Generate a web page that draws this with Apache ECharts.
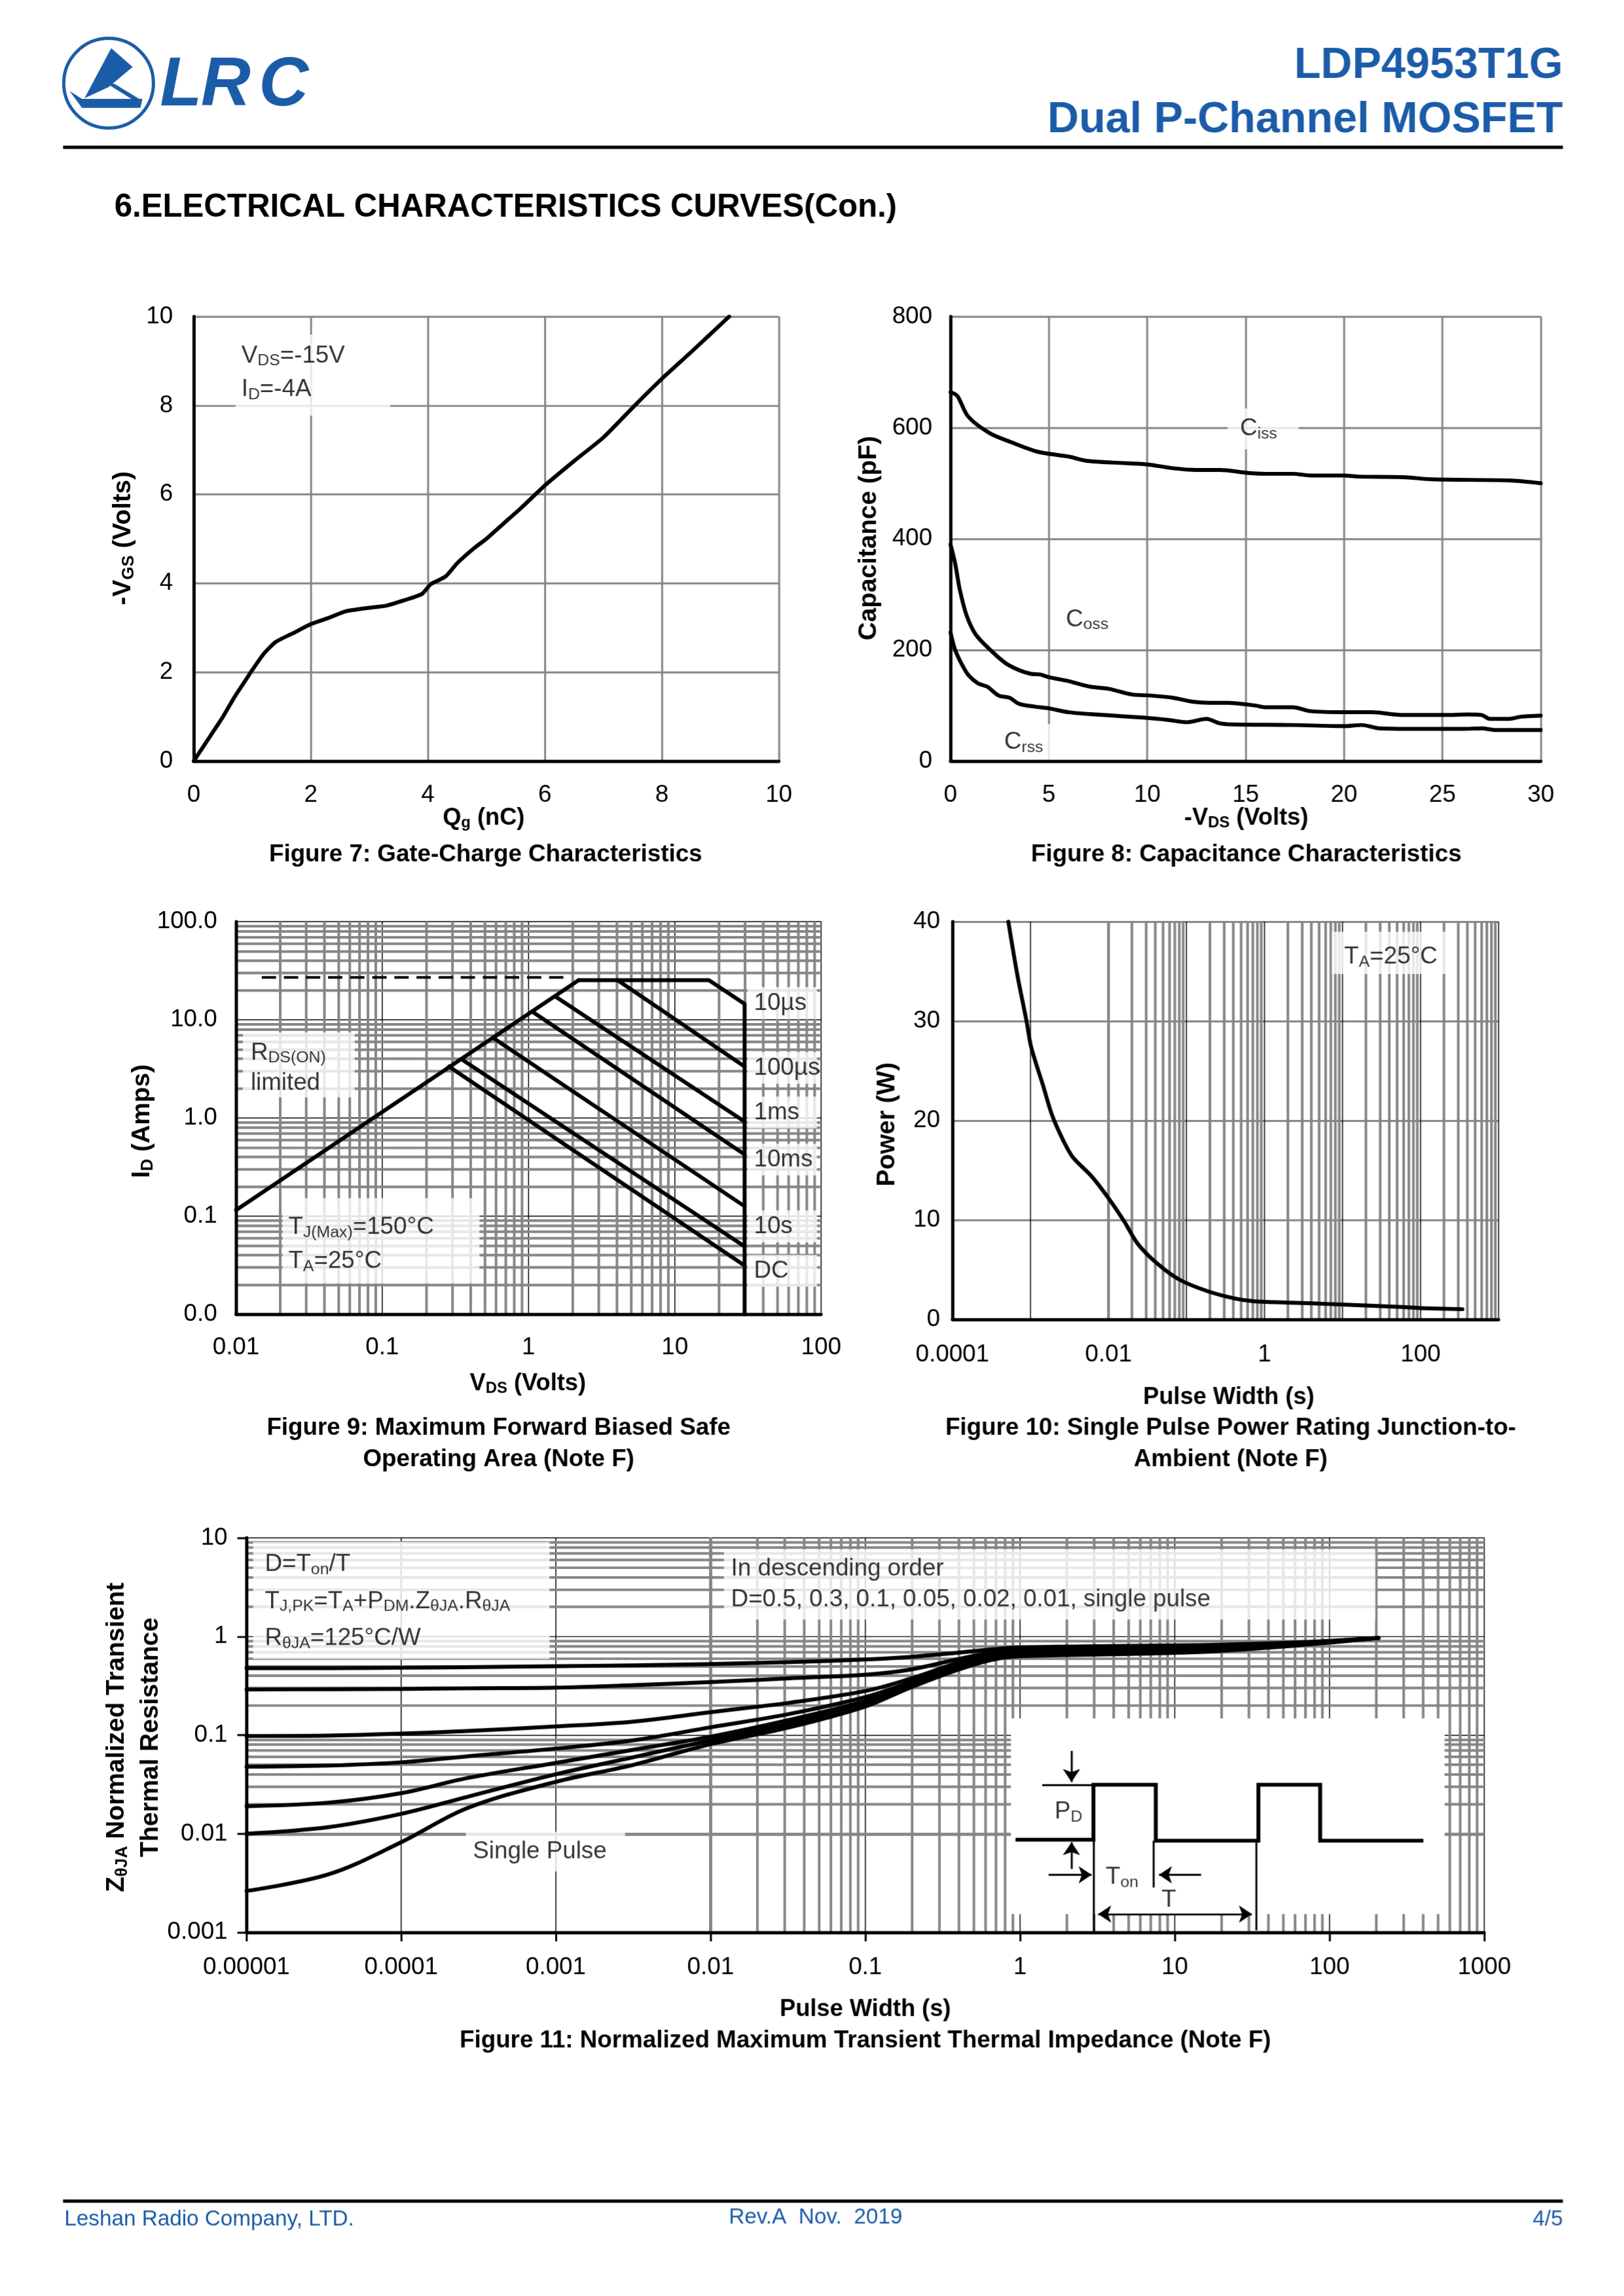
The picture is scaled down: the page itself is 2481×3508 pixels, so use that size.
<!DOCTYPE html>
<html>
<head>
<meta charset="utf-8">
<script src="https://cdn.jsdelivr.net/npm/echarts@6/dist/echarts.min.js"></script>
<style>
html,body{margin:0;padding:0;background:#fff;overflow:hidden;}
#c{width:2499px;height:3533px;transform:scale(0.993);transform-origin:0 0;}
</style>
</head>
<body>
<div id="c"></div>
<script>
// ================= DATA =================
// Figure 7: Gate charge
const gateChargeQg  = [0, 0.1, 0.3, 0.5, 0.7, 0.9, 1.0, 1.2, 1.4, 1.7, 2.0, 2.3, 2.6, 3.0, 3.3, 3.6, 3.9, 4.05, 4.3, 4.5, 4.8, 5.0, 5.3, 5.6, 6.0, 6.5, 7.0, 7.5, 8.0, 8.5, 9.15];
const gateChargeVgs = [0, 0.2, 0.6, 1.0, 1.45, 1.85, 2.05, 2.42, 2.68, 2.88, 3.08, 3.22, 3.37, 3.45, 3.5, 3.62, 3.76, 3.98, 4.15, 4.45, 4.8, 5.0, 5.35, 5.7, 6.2, 6.75, 7.28, 7.95, 8.6, 9.2, 10.0];

// Figure 8: Capacitance
const cissVds = [0, 0.35, 0.9, 2, 3.15, 4.3, 5, 6, 7, 9, 10, 11.3, 12.5, 13.7, 15, 16, 17.4, 18.3, 20, 20.7, 23, 24.5, 28.4, 30];
const ciss    = [664, 657, 620, 590, 573, 558, 553, 548, 540, 536, 534, 527, 524, 524, 519, 517, 517, 514, 514, 512, 511, 507, 505, 500];
const cossVds = [0, 0.23, 0.47, 0.82, 1.28, 2, 2.9, 4.1, 4.55, 5, 6, 7.1, 8.05, 9.2, 10.2, 11.3, 12.3, 13.2, 14.1, 15.5, 16, 17.4, 18.3, 20, 21.4, 23, 25.1, 26.3, 27, 27.4, 28.4, 29, 30];
const coss    = [390, 357, 309, 262, 228, 201, 174, 157, 156, 151, 144, 134, 130, 120, 118, 114, 107, 105, 105, 100, 97, 97, 90, 88, 88, 83, 83, 84, 83, 76, 76, 80, 82];
const crssVds = [0, 0.23, 0.58, 0.93, 1.4, 1.87, 2.45, 3, 3.5, 4.3, 5, 6, 7.8, 9.9, 11.1, 12, 13, 13.7, 14.4, 17.4, 20, 20.9, 21.8, 24.2, 26, 27, 27.7, 30];
const crss    = [232, 201, 174, 154, 140, 134, 118, 114, 103, 98, 95, 88, 83, 78, 74, 70, 76, 68, 66, 65, 63, 65, 59, 58, 58, 59, 56, 56];

// Figure 9: Safe operating area  [VDS, ID]
const soaRdsLimit   = [[0.01, 0.115], [2.2, 25.3]];
const soaDashed     = [[0.015, 27], [1.8, 27]];
const soa10us       = [[2.2, 25.3], [17.1, 25.3], [30, 14.5], [30, 0.01]];
const soa100us      = [[4.06, 25.3], [30, 3.34]];
const soa1ms        = [[1.52, 17.3], [30, 0.918]];
const soa10ms       = [[1.08, 11.9], [30, 0.424]];
const soa100ms      = [[0.575, 6.5], [30, 0.126]];
const soa10s        = [[0.352, 3.92], [30, 0.049]];
const soaDC         = [[0.286, 3.34], [30, 0.0313]];
const soaLabelNames = ['10µs', '100µs', '1ms', '10ms', '10s', 'DC'];
const soaLabelId    = [14.7, 3.21, 1.13, 0.374, 0.078, 0.0275];

// Figure 10: single pulse power
const pulseWidthS = [0.00052, 0.00068, 0.00089, 0.00102, 0.00144, 0.0019, 0.00267, 0.0035, 0.00607, 0.01, 0.0158, 0.0238, 0.0411, 0.0815, 0.185, 0.42, 0.73, 1.9, 3.76, 11.2, 58, 100, 344];
const peakPowerW  = [40, 34.6, 30.0, 27.4, 23.6, 20.5, 17.9, 16.3, 14.4, 12.2, 9.9, 7.6, 5.7, 4.0, 2.85, 2.1, 1.83, 1.7, 1.63, 1.48, 1.25, 1.14, 1.03];

// Figure 11: transient thermal impedance
const zthPulseWidth = [1e-5, 3.43e-5, 1e-4, 2.68e-4, 1e-3, 3.16e-3, 0.01, 0.0324, 0.1, 0.192, 0.381, 0.659, 1, 3.9, 15.4, 60.5, 207];
const zthD05    = [0.477, 0.478, 0.482, 0.488, 0.50, 0.51, 0.526, 0.55, 0.585, 0.62, 0.68, 0.74, 0.775, 0.80, 0.82, 0.87, 0.966];
const zthD03    = [0.29, 0.292, 0.294, 0.298, 0.303, 0.321, 0.345, 0.377, 0.41, 0.46, 0.58, 0.69, 0.74, 0.77, 0.80, 0.86, 0.966];
const zthD01    = [0.098, 0.099, 0.1035, 0.11, 0.1225, 0.137, 0.171, 0.213, 0.28, 0.37, 0.53, 0.67, 0.71, 0.74, 0.77, 0.85, 0.966];
const zthD005   = [0.0478, 0.0492, 0.053, 0.061, 0.073, 0.0885, 0.12, 0.164, 0.243, 0.34, 0.50, 0.64, 0.69, 0.72, 0.75, 0.84, 0.966];
const zthD002   = [0.019, 0.0207, 0.0258, 0.0367, 0.0523, 0.071, 0.0966, 0.143, 0.222, 0.32, 0.48, 0.62, 0.67, 0.70, 0.73, 0.83, 0.966];
const zthD001   = [0.010, 0.0117, 0.0159, 0.0237, 0.0401, 0.0596, 0.0885, 0.131, 0.213, 0.31, 0.47, 0.61, 0.66, 0.69, 0.72, 0.82, 0.966];
const zthSingle = [0.00263, 0.0039, 0.0082, 0.0182, 0.0336, 0.0499, 0.081, 0.12, 0.195, 0.30, 0.45, 0.58, 0.63, 0.66, 0.70, 0.81, 0.966];
const zthSeries = [zthD05, zthD03, zthD01, zthD005, zthD002, zthD001, zthSingle];

// Figure 11 inset sketch (pulse train), in axis units
const sketchPulseT = [0.935, 2.98, 2.98, 7.54, 7.54, 34.7, 34.7, 87, 87, 404];
const sketchPulseP = [0.0087, 0.0087, 0.0314, 0.0314, 0.0085, 0.0085, 0.0314, 0.0314, 0.0085, 0.0085];
const sketchLines = [
  [[1.39, 0.0314], [2.98, 0.0314], 'none', 'none'],
  [[2.15, 0.0692], [2.15, 0.0335], 'none', 'arrow'],
  [[2.15, 0.0044], [2.15, 0.0082], 'none', 'arrow'],
  [[1.53, 0.00383], [2.90, 0.00383], 'none', 'arrow'],
  [[14.8, 0.00383], [7.9, 0.00383], 'none', 'arrow'],
  [[7.3, 0.0085], [7.3, 0.00285], 'none', 'none'],
  [[2.98, 0.0087], [2.98, 0.001], 'none', 'none'],
  [[33.6, 0.0085], [33.6, 0.00105], 'none', 'none'],
  [[3.2, 0.00153], [31.5, 0.00153], 'arrow', 'arrow']
];

// Tick labels
const fig9XTicks  = ['0.01', '0.1', '1', '10', '100'];
const fig9YTicks  = ['0.0', '0.1', '1.0', '10.0', '100.0'];
const fig10XTicks = ['0.0001', '', '0.01', '', '1', '', '100', ''];
const fig11XTicks = ['0.00001', '0.0001', '0.001', '0.01', '0.1', '1', '10', '100', '1000'];
const fig11YTicks = ['0.001', '0.01', '0.1', '1', '10'];

// ================= STYLE HELPERS =================
const FONT = '"Liberation Sans", Arial, Helvetica, sans-serif';
const GRAY = '#858585';
const BLUE = '#1b5ca9';
const FS = 37;   // annotation / tick font size
const zip = (xs, ys) => xs.map((x, i) => [x, ys[i]]);

function rich(size, weight, lh, color) {
  color = color || '#000';
  const n = {fontSize: size, fontWeight: weight, fontFamily: FONT, color: color, fill: color};
  if (lh) n.lineHeight = lh;
  const s = Object.assign({}, n, {fontSize: Math.round(size * 0.67), padding: [Math.round(size * 0.42), 0, 0, 0]});
  return {n: n, s: s};
}

function minors(e0, e1) {
  const out = [];
  for (let e = e0; e < e1; e++) for (let k = 2; k <= 9; k++) out.push(k * Math.pow(10, e));
  return out;
}

function gridSeries(gi, xs, ys, w) {
  return {
    type: 'line', xAxisIndex: gi, yAxisIndex: gi, data: [], silent: true, z: 1,
    markLine: {
      silent: true, z: 1, symbol: ['none', 'none'], animation: false,
      label: {show: false}, emphasis: {disabled: true},
      lineStyle: {color: GRAY, width: w, type: 'solid', opacity: 1},
      data: xs.map(v => ({xAxis: v})).concat(ys.map(v => ({yAxis: v})))
    }
  };
}

function curve(gi, data, w, smooth, extra) {
  return Object.assign({
    type: 'line', xAxisIndex: gi, yAxisIndex: gi, data: data, symbol: 'none', showSymbol: false,
    smooth: smooth || false, silent: true, z: 3,
    lineStyle: {color: '#000', width: w, cap: 'round', join: 'round'}
  }, extra || {});
}

function textMark(gi, x, y, text, lab) {
  return {
    type: 'scatter', xAxisIndex: gi, yAxisIndex: gi, data: [[x, y]], symbolSize: 1, silent: true, z: 5,
    itemStyle: {color: 'rgba(0,0,0,0)'},
    label: Object.assign({
      show: true, position: [0, 0], align: 'left', verticalAlign: 'top',
      formatter: () => text, color: '#000', fontSize: FS, fontFamily: FONT,
      rich: rich(FS, 'normal', lab && lab.lineHeight)
    }, lab || {})
  };
}

const tickLabel = (margin, fmt) => ({show: true, fontSize: FS, fontFamily: FONT, color: '#000', margin: margin, formatter: fmt});
const logIdx = v => Math.round(Math.log10(v));

function mainAxis(gi, type, min, max, interval, margin, fmt, split) {
  const a = {
    gridIndex: gi, type: type, min: min, max: max,
    axisLine: {show: false}, axisTick: {show: false},
    axisLabel: tickLabel(margin, fmt),
    splitLine: {show: true, lineStyle: split}
  };
  if (type === 'log') a.logBase = 10;
  if (interval) a.interval = interval;
  return a;
}
function overlayAxis(gi, type, min, max, pos, ticks) {
  const a = {
    gridIndex: gi, type: type, min: min, max: max, position: pos, z: 10,
    axisLine: {show: true, onZero: false, lineStyle: {color: '#000', width: 5}},
    axisTick: ticks ? {show: true, inside: false, length: 14, lineStyle: {color: '#000', width: 3}} : {show: false},
    axisLabel: {show: false}, splitLine: {show: false}
  };
  if (type === 'log') a.logBase = 10;
  return a;
}

const GS = {color: GRAY, width: 3};
const BK = {color: '#000', width: 1.5};

// ================= AXES =================
const xAxis = [
  mainAxis(0, 'value', 0, 10, 2, 34, null, GS),
  mainAxis(1, 'value', 0, 30, 5, 34, null, GS),
  mainAxis(2, 'log', 0.01, 100, null, 33, v => fig9XTicks[logIdx(v) + 2], BK),
  mainAxis(3, 'log', 1e-4, 1e3, null, 36, v => fig10XTicks[logIdx(v) + 4], BK),
  mainAxis(4, 'log', 1e-5, 1e3, null, 36, v => fig11XTicks[logIdx(v) + 5], BK),
  overlayAxis(0, 'value', 0, 10, 'bottom'),
  overlayAxis(1, 'value', 0, 30, 'bottom'),
  overlayAxis(2, 'log', 0.01, 100, 'bottom'),
  overlayAxis(3, 'log', 1e-4, 1e3, 'bottom'),
  overlayAxis(4, 'log', 1e-5, 1e3, 'bottom', true)
];
const yAxis = [
  mainAxis(0, 'value', 0, 10, 2, 32, null, GS),
  mainAxis(1, 'value', 0, 800, 200, 28, null, GS),
  mainAxis(2, 'log', 0.01, 100, null, 29, v => fig9YTicks[logIdx(v) + 2], BK),
  mainAxis(3, 'value', 0, 40, 10, 19, null, GS),
  mainAxis(4, 'log', 1e-3, 10, null, 29, v => fig11YTicks[logIdx(v) + 3], BK),
  overlayAxis(0, 'value', 0, 10, 'left'),
  overlayAxis(1, 'value', 0, 800, 'left'),
  overlayAxis(2, 'log', 0.01, 100, 'left'),
  overlayAxis(3, 'value', 0, 40, 'left'),
  overlayAxis(4, 'log', 1e-3, 10, 'left', true)
];

// ================= SERIES =================
const series = [];
// Fig 7
series.push(curve(0, zip(gateChargeQg, gateChargeVgs), 6, 0.2));
series.push(textMark(0, 0.72, 9.59, '{n|V}{s|DS}{n|=-15V}\n{n|I}{s|D}{n|=-4A}',
  {backgroundColor: '#fff', padding: [7, 0, 0, 9], width: 229, height: 118, lineHeight: 52, rich: rich(FS, 'normal', 52)}));

// Fig 8
series.push(curve(1, zip(cissVds, ciss), 6, 0.3));
series.push(curve(1, zip(cossVds, coss), 6, 0.3));
series.push(curve(1, zip(crssVds, crss), 6, 0.3));
series.push(textMark(1, 14.1, 634, '{n|C}{s|iss}',
  {backgroundColor: '#fff', padding: [0, 0, 0, 19], width: 90, height: 63, lineHeight: 63, rich: rich(FS, 'normal', 63)}));
series.push(textMark(1, 5.88, 254, '{n|C}{s|oss}', {verticalAlign: 'middle'}));
series.push(textMark(1, 2.41, 66, '{n|C}{s|rss}',
  {backgroundColor: '#fff', padding: [0, 0, 0, 10], width: 80, height: 56, lineHeight: 56, rich: rich(FS, 'normal', 56)}));

// Fig 9
series.push(gridSeries(2, minors(-2, 2), minors(-2, 2), 4));
[soaRdsLimit, soa10us, soa100us, soa1ms, soa10ms, soa100ms, soa10s, soaDC].forEach(d => series.push(curve(2, d, 6, false)));
series.push(curve(2, soaDashed, 4, false, {lineStyle: {color: '#000', width: 4, type: [22, 12]}}));
soaLabelNames.forEach((nm, i) => series.push(textMark(2, 31.5, soaLabelId[i], nm,
  {backgroundColor: '#fff', verticalAlign: 'middle', padding: [6, 12, 6, 10], width: 85})));
series.push(textMark(2, 0.0112, 7.4, '{n|R}{s|DS(ON)}\n{n|limited}',
  {backgroundColor: '#fff', padding: [8, 0, 0, 12], width: 160, height: 92, lineHeight: 47, rich: rich(FS, 'normal', 47)}));
series.push(textMark(2, 0.0209, 0.151, '{n|T}{s|J(Max)}{n|=150°C}\n{n|T}{s|A}{n|=25°C}',
  {backgroundColor: '#fff', padding: [19, 0, 0, 9], width: 294, height: 112, lineHeight: 52, rich: rich(FS, 'normal', 52)}));

// Fig 10
series.push(gridSeries(3, minors(-4, 3), [], 4));
series.push(curve(3, zip(pulseWidthS, peakPowerW), 6, 0.3));
series.push(textMark(3, 7.36, 38.95, '{n|T}{s|A}{n|=25°C}',
  {backgroundColor: '#fff', padding: [6, 0, 0, 19], width: 173, height: 59, lineHeight: 66, rich: rich(FS, 'normal', 66)}));

// Fig 11
series.push(gridSeries(4, minors(-5, 3), minors(-3, 1), 4));
zthSeries.forEach(ys => series.push(curve(4, zip(zthPulseWidth, ys), 6, 0.35)));
series.push(textMark(4, 1.11e-5, 9.0,
  '{n|D=T}{s|on}{n|/T}\n{n|T}{s|J,PK}{n|=T}{s|A}{n|+P}{s|DM}{n|.Z}{s|θJA}{n|.R}{s|θJA}\n{n|R}{s|θJA}{n|=125°C/W}',
  {backgroundColor: '#fff', padding: [6, 0, 0, 18], width: 438, height: 174, lineHeight: 57, rich: rich(FS, 'normal', 57)}));
series.push(textMark(4, 0.01225, 7.6, 'In descending order\nD=0.5, 0.3, 0.1, 0.05, 0.02, 0.01, single pulse',
  {backgroundColor: '#fff', padding: [7, 0, 0, 11], width: 991, height: 101, lineHeight: 47, rich: rich(FS, 'normal', 47)}));
series.push(textMark(4, 2.63e-4, 0.0104, 'Single Pulse',
  {backgroundColor: '#fff', padding: [0, 0, 0, 11], width: 234, height: 61, lineHeight: 61, rich: rich(FS, 'normal', 61)}));
// inset sketch
series.push({
  type: 'line', xAxisIndex: 4, yAxisIndex: 4, data: zip(sketchPulseT, sketchPulseP), symbol: 'none', silent: true, z: 6,
  lineStyle: {color: '#000', width: 6, join: 'miter'},
  markArea: {silent: true, z: 2, itemStyle: {color: '#fff', opacity: 1}, label: {show: false},
    data: [[{coord: [0.873, 0.1476]}, {coord: [554, 0.00153]}]]},
  markLine: {silent: true, z: 6, animation: false, symbolSize: 20, label: {show: false}, emphasis: {disabled: true},
    lineStyle: {color: '#000', width: 3, type: 'solid', opacity: 1},
    data: sketchLines.map(l => [{coord: l[0], symbol: l[2]}, {coord: l[1], symbol: l[3]}])}
});
series.push(textMark(4, 1.68, 0.0166, '{n|P}{s|D}', {verticalAlign: 'middle'}));
series.push(textMark(4, 3.59, 0.00358, '{n|T}{s|on}', {verticalAlign: 'middle'}));
series.push(textMark(4, 8.25, 0.0021, 'T', {verticalAlign: 'middle'}));

// ================= GRAPHICS (page furniture, titles) =================
function T(x, y, text, size, weight, align, color, extra) {
  return Object.assign({
    type: 'text', x: x, y: y, silent: true,
    style: {text: text, fontSize: size, fontWeight: weight, fontFamily: FONT, fill: color || '#000',
      textAlign: align || 'center', textVerticalAlign: 'middle'}
  }, extra || {});
}
function RT(x, y, text, size, rot, lh) {
  const st = {text: text, fontSize: size, fontWeight: 'bold', fontFamily: FONT, fill: '#000',
    textAlign: 'center', textVerticalAlign: 'middle', rich: rich(size, 'bold', lh)};
  if (lh) st.lineHeight = lh;
  return {type: 'text', x: x, y: y, silent: true, rotation: rot || 0, style: st};
}
function LOGO(x, ch) {
  return {type: 'text', x: x, y: 133, silent: true,
    style: {text: ch, fontSize: 106, fontWeight: 900, fontStyle: 'italic', fontFamily: FONT, fill: BLUE,
      textAlign: 'left', textVerticalAlign: 'middle'}};
}
const R90 = Math.PI / 2;
const CAP = 37, YT = 39, XT = 36.5;
const graphic = [
  // logo
  {type: 'circle', silent: true, shape: {cx: 167, cy: 128, r: 69}, style: {fill: 'none', stroke: BLUE, lineWidth: 5}},
  {type: 'polygon', silent: true, shape: {points: [[171, 74], [204, 103], [167, 134], [130, 151]]}, style: {fill: BLUE}},
  {type: 'polygon', silent: true, shape: {points: [[165, 129], [176, 129], [219, 155], [207, 155]]}, style: {fill: BLUE}},
  {type: 'polygon', silent: true, shape: {points: [[107, 140], [126, 152], [219, 152], [216, 166], [126, 166]]}, style: {fill: BLUE}},
  LOGO(246, 'L'), LOGO(309, 'R'), LOGO(398, 'C'),
  // header
  T(2404, 101, 'LDP4953T1G', 67, 'bold', 'right', BLUE),
  T(2404, 185, 'Dual P-Channel MOSFET', 67, 'bold', 'right', BLUE),
  {type: 'rect', silent: true, shape: {x: 97, y: 224, width: 2307, height: 5}, style: {fill: '#000'}},
  T(176, 320, '6.ELECTRICAL CHARACTERISTICS CURVES(Con.)', 49.5, 'bold', 'left'),
  // Fig 7
  RT(190, 828, '{n|-V}{s|GS}{n| (Volts)}', YT, R90),
  RT(744, 1259, '{n|Q}{s|g}{n| (nC)}', XT, 0),
  T(747, 1315, 'Figure 7: Gate-Charge Characteristics', CAP, 'bold'),
  // Fig 8
  RT(1337, 828, '{n|Capacitance (pF)}', YT, R90),
  RT(1917, 1259, '{n|-V}{s|DS}{n| (Volts)}', XT, 0),
  T(1917, 1315, 'Figure 8: Capacitance Characteristics', CAP, 'bold'),
  // Fig 9
  RT(219, 1725, '{n|I}{s|D}{n| (Amps)}', YT, R90),
  RT(812, 2129, '{n|V}{s|DS}{n| (Volts)}', XT, 0),
  T(767, 2197, 'Figure 9: Maximum Forward Biased Safe', CAP, 'bold'),
  T(767, 2246, 'Operating Area (Note F)', CAP, 'bold'),
  // Fig 10
  RT(1365, 1730, '{n|Power (W)}', YT, R90),
  T(1890, 2150, 'Pulse Width (s)', XT, 'bold'),
  T(1893, 2197, 'Figure 10: Single Pulse Power Rating Junction-to-', CAP, 'bold'),
  T(1893, 2246, 'Ambient (Note F)', CAP, 'bold'),
  // Fig 11
  RT(206, 2673, '{n|Z}{s|θJA}{n| Normalized Transient}\n{n|Thermal Resistance}', YT, R90, 52),
  T(1331, 3092, 'Pulse Width (s)', XT, 'bold'),
  T(1331, 3140, 'Figure 11: Normalized Maximum Transient Thermal Impedance (Note F)', CAP, 'bold'),
  // footer
  {type: 'rect', silent: true, shape: {x: 97, y: 3384, width: 2307, height: 5}, style: {fill: '#000'}},
  T(99, 3415, 'Leshan Radio Company, LTD.', 33.5, 'normal', 'left', BLUE),
  T(1121, 3412, 'Rev.A  Nov.  2019', 33.5, 'normal', 'left', BLUE),
  T(2404, 3415, '4/5', 33.5, 'normal', 'right', BLUE)
];

const option = {
  animation: false,
  backgroundColor: '#fff',
  grid: [
    {left: 298, top: 487, width: 900, height: 684},
    {left: 1462, top: 487, width: 908, height: 684},
    {left: 363, top: 1418, width: 900, height: 604},
    {left: 1465, top: 1418, width: 840, height: 612},
    {left: 379, top: 2366, width: 1904, height: 607}
  ],
  xAxis: xAxis,
  yAxis: yAxis,
  series: series,
  graphic: graphic
};

// Rendered at 0.993 scale onto the 2481x3508 page (backing store maps 1:1 to screen pixels)
const chart = echarts.init(document.getElementById('c'), null,
  {renderer: 'canvas', devicePixelRatio: 0.993, width: 2499, height: 3533});
chart.setOption(option);
</script>
</body>
</html>
